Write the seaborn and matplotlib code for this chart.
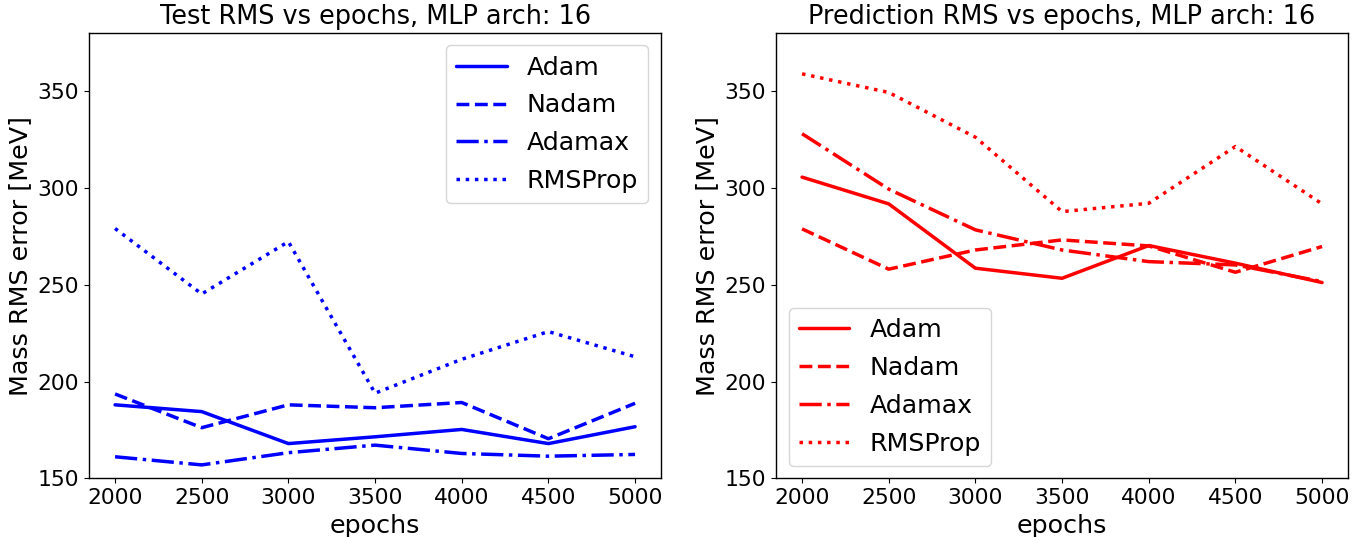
import matplotlib
matplotlib.use("Agg")
import matplotlib.pyplot as plt
import pandas as pd
import seaborn as sns

EPOCHS = [2000, 2500, 3000, 3500, 4000, 4500, 5000]
OPTIMIZERS = ["Adam", "Nadam", "Adamax", "RMSProp"]

# Test RMS (left panel)
TEST_ADAM = [188, 184.5, 168, 171.5, 175.3, 168, 176.7]
TEST_NADAM = [193.6, 176.2, 188, 186.5, 189.2, 170.5, 188.8]
TEST_ADAMAX = [161.2, 157, 163.3, 167.2, 162.9, 161.5, 162.4]
TEST_RMSPROP = [279, 245.2, 272.2, 194, 211.5, 225.8, 212.8]

# Prediction RMS (right panel)
PRED_ADAM = [305.5, 291.7, 258.5, 253.3, 270.2, 261.1, 251.1]
PRED_NADAM = [278.8, 258, 267.9, 273.1, 270, 256.4, 269.7]
PRED_ADAMAX = [327.9, 299.3, 278.3, 267.9, 261.9, 260.2, 251.6]
PRED_RMSPROP = [358.8, 349.2, 326.1, 287.7, 292, 321.3, 291.7]

LINESTYLES = ["-", "--", "-.", ":"]


def setup_style() -> None:
    sns.set_style("ticks")
    plt.rcParams.update(
        {
            "font.family": ["DejaVu Sans"],
            "axes.titlesize": 18.4,
            "axes.labelsize": 18.3,
            "xtick.labelsize": 15.7,
            "ytick.labelsize": 15.7,
            "legend.fontsize": 18.2,
            "axes.edgecolor": "black",
            "axes.linewidth": 1.0,
            "xtick.color": "black",
            "ytick.color": "black",
            "text.color": "black",
            "axes.labelcolor": "black",
        }
    )


def draw_panel(ax, series, color, title, legend_loc) -> None:
    for name, values, ls in zip(OPTIMIZERS, series, LINESTYLES):
        df = pd.DataFrame({"epochs": EPOCHS, "rms": values})
        sns.lineplot(data=df, x="epochs", y="rms", ax=ax, color=color,
                     linestyle=ls, linewidth=2.5, label=name)
    ax.set_ylim(150, 380)
    ax.set_xlim(1850, 5150)
    ax.set_xticks(EPOCHS)
    ax.set_yticks([150, 200, 250, 300, 350])
    ax.set_title(title)
    ax.set_xlabel("epochs")
    ax.set_ylabel("Mass RMS error [MeV]")
    ax.legend(loc=legend_loc, labelspacing=0.55)


def main() -> None:
    setup_style()
    fig, axes = plt.subplots(1, 2, figsize=(13.7, 5.37), dpi=100)
    fig.subplots_adjust(left=0.065, right=0.984, top=0.939, bottom=0.109, wspace=0.201)

    draw_panel(axes[0], [TEST_ADAM, TEST_NADAM, TEST_ADAMAX, TEST_RMSPROP],
               "blue", "Test RMS vs epochs, MLP arch: 16", "upper right")
    draw_panel(axes[1], [PRED_ADAM, PRED_NADAM, PRED_ADAMAX, PRED_RMSPROP],
               "red", "Prediction RMS vs epochs, MLP arch: 16", "lower left")

    fig.savefig("out.png", dpi=100)
    plt.close(fig)


if __name__ == "__main__":
    main()
